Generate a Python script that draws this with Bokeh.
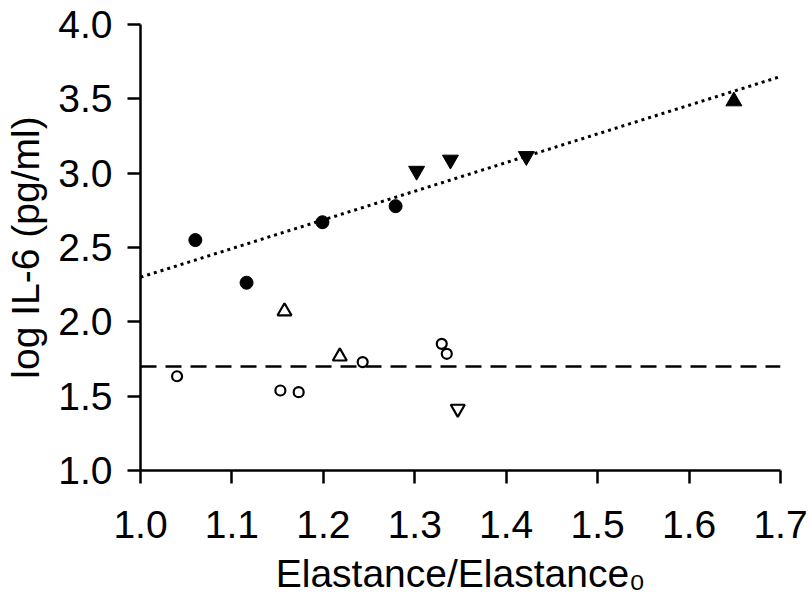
from bokeh.plotting import figure
from bokeh.models import Range1d, FixedTicker, PrintfTickFormatter
from bokeh.embed import file_html
from bokeh.resources import INLINE

# ---- data ----
filled_circle_x = [1.060, 1.116, 1.199, 1.279]
filled_circle_y = [2.550, 2.263, 2.670, 2.778]

filled_down_x = [1.302, 1.339, 1.422]
filled_down_y = [3.015, 3.090, 3.114]

filled_up_x = [1.649]
filled_up_y = [3.484]

open_up_x = [1.1575, 1.218]
open_up_y = [2.071, 1.767]

open_circle_x = [1.040, 1.153, 1.173, 1.243, 1.3295, 1.335]
open_circle_y = [1.634, 1.538, 1.527, 1.729, 1.852, 1.785]

open_down_x = [1.347]
open_down_y = [1.415]

fit_x = [1.0, 1.7]
fit_y = [2.30, 3.65]

ref_x = [1.0, 1.7]
ref_y = [1.70, 1.70]

x_ticks = [1.0, 1.1, 1.2, 1.3, 1.4, 1.5, 1.6, 1.7]
y_ticks = [1.0, 1.5, 2.0, 2.5, 3.0, 3.5, 4.0]

x_title = "Elastance/Elastance\u2080"
y_title = "log IL-6 (pg/ml)"

FONT = "Liberation Sans"

p = figure(width=810, height=610,
           min_border_left=140, min_border_right=30,
           min_border_top=24, min_border_bottom=140,
           x_range=Range1d(1.0, 1.7), y_range=Range1d(1.0, 4.0),
           output_backend="svg", toolbar_location=None)
p.outline_line_color = None
p.grid.visible = False
p.background_fill_color = "white"
p.border_fill_color = "white"

for ax in (p.xaxis[0], p.yaxis[0]):
    ax.axis_line_width = 2.5
    ax.axis_line_color = "black"
    ax.major_tick_line_width = 2.5
    ax.major_tick_line_color = "black"
    ax.major_tick_in = 0
    ax.major_tick_out = 13
    ax.minor_tick_line_color = None
    ax.major_label_text_font = FONT
    ax.major_label_text_font_size = "39px"
    ax.major_label_text_color = "black"
    ax.axis_label_text_font = FONT
    ax.axis_label_text_font_size = "39px"
    ax.axis_label_text_font_style = "normal"
    ax.axis_label_text_color = "black"

p.xaxis.ticker = FixedTicker(ticks=x_ticks)
p.yaxis.ticker = FixedTicker(ticks=y_ticks)
p.xaxis.formatter = PrintfTickFormatter(format="%.1f")
p.yaxis.formatter = PrintfTickFormatter(format="%.1f")
p.xaxis.major_label_standoff = 27
p.xaxis.axis_label = x_title
p.xaxis.axis_label_standoff = 11
p.yaxis.major_label_standoff = 15
p.yaxis.axis_label = y_title
p.yaxis.axis_label_standoff = 8

# lines
p.line(fit_x, fit_y, line_color="black", line_width=3, line_dash="3 4")
p.line(ref_x, ref_y, line_color="black", line_width=2.5, line_dash="16 9")

# markers
p.scatter(filled_circle_x, filled_circle_y, marker="circle", size=13,
          fill_color="black", line_color="black")
p.scatter(filled_down_x, filled_down_y, marker="inverted_triangle", size=16,
          fill_color="black", line_color="black")
p.scatter(filled_up_x, filled_up_y, marker="triangle", size=16,
          fill_color="black", line_color="black")
p.scatter(open_up_x, open_up_y, marker="triangle", size=14,
          fill_color="white", line_color="black", line_width=2.2)
p.scatter(open_circle_x, open_circle_y, marker="circle", size=10,
          fill_color="white", line_color="black", line_width=2.2)
p.scatter(open_down_x, open_down_y, marker="inverted_triangle", size=14,
          fill_color="white", line_color="black", line_width=2.2)

open("out.html", "w").write(file_html(p, INLINE))
